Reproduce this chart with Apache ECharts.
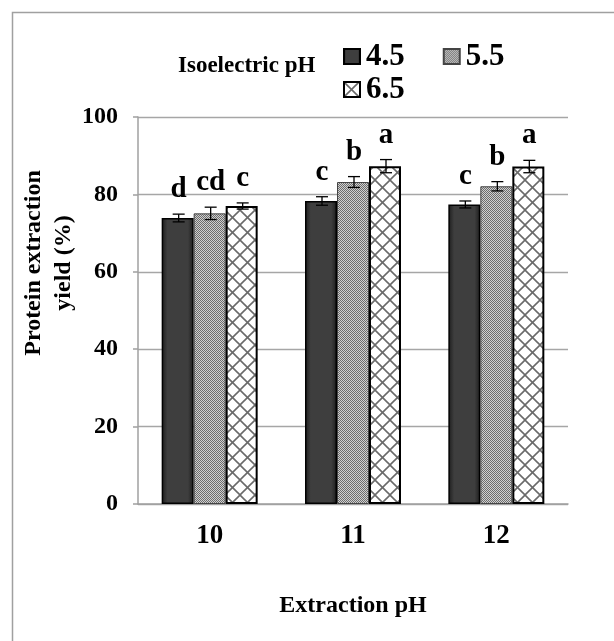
<!DOCTYPE html>
<html lang="en">
<head>
  <meta charset="UTF-8">
  <title>Protein extraction yield</title>
  <script src="https://cdn.jsdelivr.net/npm/echarts@6.0.0/dist/echarts.min.js"></script>
  <style>
    html, body {
      margin: 0;
      padding: 0;
      background-color: #ffffff;
    }
    #chart {
      width: 614px;
      height: 641px;
    }
  </style>
</head>
<body>
  <div id="chart"></div>

  <script>
    // 数据
    var categories = ['10', '11', '12'];
    var seriesNames = ['4.5', '5.5', '6.5'];
    var yield45 = [73.9, 78.3, 77.4];
    var yield55 = [75.1, 83.2, 82.1];
    var yield65 = [77.0, 87.3, 87.2];
    var err45 = [1.0, 1.1, 0.9];
    var err55 = [1.6, 1.4, 1.2];
    var err65 = [0.8, 1.7, 1.6];
    var letters45 = ['d', 'c', 'c'];
    var letters55 = ['cd', 'b', 'b'];
    var letters65 = ['c', 'a', 'a'];
    var yTicks = [0, 20, 40, 60, 80, 100];

    var FONT = "'Liberation Serif', 'Times New Roman', serif";
    var BAR_W = 32;

    // 填充图案：细棋盘格
    function makeChecker() {
      var c = document.createElement('canvas');
      c.width = 2; c.height = 2;
      var ctx = c.getContext('2d');
      ctx.fillStyle = '#d0d0d0';
      ctx.fillRect(0, 0, 2, 2);
      ctx.fillStyle = '#6c6c6c';
      ctx.fillRect(0, 0, 1, 1);
      ctx.fillRect(1, 1, 1, 1);
      return c;
    }

    // 填充图案：斜交叉网格
    function makeCross() {
      var s = 15;
      var c = document.createElement('canvas');
      c.width = s; c.height = s;
      var ctx = c.getContext('2d');
      ctx.fillStyle = '#ffffff';
      ctx.fillRect(0, 0, s, s);
      ctx.strokeStyle = '#6a6a6a';
      ctx.lineWidth = 1.6;
      for (var k = -1; k <= 1; k++) {
        ctx.beginPath();
        ctx.moveTo(k * s, 0);
        ctx.lineTo(k * s + s, s);
        ctx.stroke();
        ctx.beginPath();
        ctx.moveTo(k * s + s, 0);
        ctx.lineTo(k * s, s);
        ctx.stroke();
      }
      return c;
    }

    var darkFill = {
      type: 'linear', x: 0, y: 0, x2: 1, y2: 0,
      colorStops: [
        { offset: 0, color: '#1c1c1c' },
        { offset: 0.18, color: '#3e3e3e' },
        { offset: 0.82, color: '#3e3e3e' },
        { offset: 1, color: '#1c1c1c' }
      ]
    };
    var checkerFill = { image: makeChecker(), repeat: 'repeat' };
    var crossFill = { image: makeCross(), repeat: 'repeat' };

    var barStyles = [
      { color: darkFill, borderColor: '#000', borderWidth: 1.5 },
      { color: checkerFill, borderColor: '#444', borderWidth: 1 },
      { color: crossFill, borderColor: '#000', borderWidth: 2 }
    ];
    var values = [yield45, yield55, yield65];
    var errors = [err45, err55, err65];
    var letters = [letters45, letters55, letters65];

    function errorSeries(g) {
      return {
        type: 'custom',
        silent: true,
        z: 5,
        data: values[g].map(function (v, i) { return [i, v, errors[g][i]]; }),
        encode: { x: 0, y: 1 },
        renderItem: function (params, api) {
          var i = api.value(0);
          var mean = api.value(1);
          var e = api.value(2);
          var x = api.coord([i, mean])[0] + (g - 1) * BAR_W + 1;
          var top = api.coord([i, mean + e])[1];
          var bot = api.coord([i, mean - e])[1];
          var st = { stroke: '#000', lineWidth: 1.3 };
          return {
            type: 'group',
            children: [
              { type: 'line', shape: { x1: x, y1: top, x2: x, y2: bot }, style: st },
              { type: 'line', shape: { x1: x - 6, y1: top, x2: x + 6, y2: top }, style: st },
              { type: 'line', shape: { x1: x - 6, y1: bot, x2: x + 6, y2: bot }, style: st },
              {
                type: 'text',
                style: {
                  x: x, y: top - 10,
                  text: letters[g][params.dataIndex],
                  fill: '#000',
                  font: 'bold 29px ' + FONT,
                  textAlign: 'center',
                  textVerticalAlign: 'bottom'
                }
              }
            ]
          };
        }
      };
    }

    var chart = echarts.init(document.getElementById('chart'));

    var series = [];
    for (var g = 0; g < 3; g++) {
      series.push({
        name: seriesNames[g],
        type: 'bar',
        data: values[g],
        barWidth: BAR_W,
        barGap: '0%',
        itemStyle: barStyles[g],
        emphasis: { disabled: true }
      });
    }
    for (var g2 = 0; g2 < 3; g2++) {
      series.push(errorSeries(g2));
    }

    var legendText = {
      fontFamily: FONT,
      fontWeight: 'bold',
      fontSize: 31,
      color: '#000',
      padding: [0, 0, 0, 1]
    };

    chart.setOption({
      animation: false,
      backgroundColor: '#ffffff',
      grid: {
        left: 138,
        right: 46,
        top: 117,
        bottom: 137,
        containLabel: false,
        outerBoundsMode: 'none'
      },
      legend: [
        {
          data: ['4.5', '5.5'],
          left: 343,
          top: 41,
          padding: 0,
          icon: 'rect',
          itemWidth: 16,
          itemHeight: 15,
          itemGap: 38,
          selectedMode: false,
          textStyle: legendText
        },
        {
          data: ['6.5'],
          left: 343,
          top: 74,
          padding: 0,
          icon: 'rect',
          itemWidth: 16,
          itemHeight: 15,
          selectedMode: false,
          textStyle: legendText
        }
      ],
      xAxis: {
        type: 'category',
        data: categories,
        name: 'Extraction pH',
        nameLocation: 'middle',
        nameGap: 90,
        nameTextStyle: { fontFamily: FONT, fontWeight: 'bold', fontSize: 24, color: '#000' },
        axisLine: { lineStyle: { color: '#a0a0a0', width: 1.5 } },
        axisTick: { show: false },
        axisLabel: { fontFamily: FONT, fontWeight: 'bold', fontSize: 27, color: '#000', margin: 19 }
      },
      yAxis: {
        type: 'value',
        min: yTicks[0],
        max: yTicks[yTicks.length - 1],
        interval: 20,
        axisLine: { show: true, lineStyle: { color: '#a0a0a0', width: 1.5 } },
        axisTick: { show: true, length: 5, lineStyle: { color: '#a0a0a0', width: 1.5 } },
        splitLine: { lineStyle: { color: '#a6a6a6', width: 1.4 } },
        axisLabel: { fontFamily: FONT, fontWeight: 'bold', fontSize: 24, color: '#000', margin: 20 }
      },
      graphic: [
        {
          type: 'rect',
          z: -10,
          shape: { x: 12.5, y: 12.5, width: 700, height: 700 },
          style: { fill: 'none', stroke: '#a0a0a0', lineWidth: 1.5 }
        },
        {
          type: 'text',
          x: 178,
          y: 66,
          style: {
            text: 'Isoelectric pH',
            font: 'bold 23px ' + FONT,
            fill: '#000',
            textAlign: 'left',
            textVerticalAlign: 'middle'
          }
        },
        {
          type: 'text',
          x: 49,
          y: 263,
          rotation: Math.PI / 2,
          style: {
            text: 'Protein extraction\nyield (%)',
            font: 'bold 24px ' + FONT,
            lineHeight: 30,
            fill: '#000',
            textAlign: 'center',
            textVerticalAlign: 'middle'
          }
        }
      ],
      series: series
    });
  </script>
</body>
</html>
